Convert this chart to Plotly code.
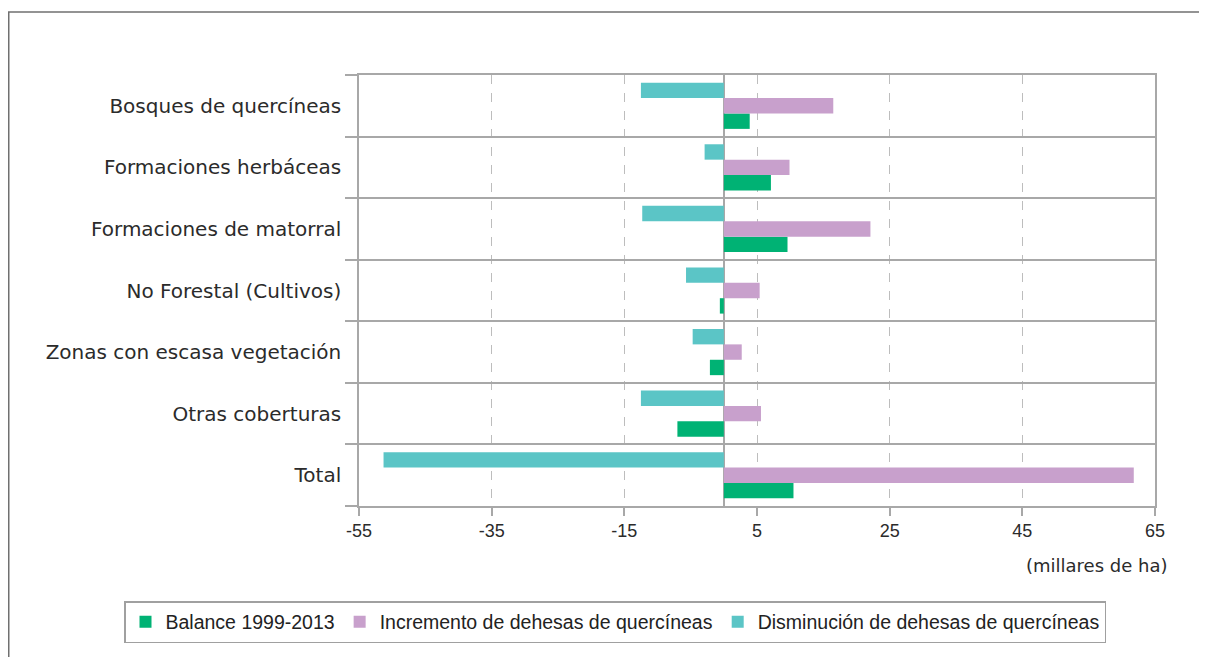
import plotly.graph_objects as go

categories = [
    "Bosques de quercíneas",
    "Formaciones herbáceas",
    "Formaciones de matorral",
    "No Forestal (Cultivos)",
    "Zonas con escasa vegetación",
    "Otras coberturas",
    "Total",
]
balance = [3.9, 7.1, 9.6, -0.6, -2.1, -7.0, 10.5]
incremento = [16.5, 9.9, 22.1, 5.4, 2.7, 5.6, 61.8]
disminucion = [-12.5, -2.9, -12.3, -5.7, -4.7, -12.5, -51.3]

series_names = [
    "Balance 1999-2013",
    "Incremento de dehesas de quercíneas",
    "Disminución de dehesas de quercíneas",
]
colors = ["#00B274", "#C8A0CC", "#5BC5C6"]

x_ticks = [-55, -35, -15, 5, 25, 45, 65]

fig = go.Figure()
for name, vals, col in zip(series_names, [balance, incremento, disminucion], colors):
    fig.add_trace(go.Bar(
        y=categories, x=vals, name=name, orientation="h",
        marker=dict(color=col, line=dict(width=0)),
    ))

OFF = 8  # page body margin
W, H = 1207, 657
L, T = 359 - OFF, 75 - OFF
R = W - (1155 - OFF)
B = H - (506 - OFF)
pw, ph = W - L - R, H - T - B

def px(x):
    return (x - OFF - L) / pw

def py(y):
    return (H - B - (y - OFF)) / ph

fig.update_layout(
    width=W, height=H,
    margin=dict(l=L, r=R, t=T, b=B),
    paper_bgcolor="white", plot_bgcolor="white",
    barmode="group", bargap=0.25, bargroupgap=0,
    font=dict(family="Liberation Sans, Arial, sans-serif", color="#2B2B2B"),
    xaxis=dict(
        range=[-55, 65], tickvals=x_ticks, ticktext=[str(v) for v in x_ticks],
        showgrid=True, gridcolor="#BDBDBD", griddash="dash", gridwidth=1,
        zeroline=True, zerolinecolor="#A8A8A8", zerolinewidth=1.5,
        showline=True, linecolor="#A8A8A8", linewidth=1.5, mirror=True,
        ticks="outside", ticklen=8, tickcolor="#A8A8A8", tickwidth=1.5,
        tickfont=dict(size=18, family="Liberation Sans, Arial", color="#2B2B2B"),
        fixedrange=True,
    ),
    yaxis=dict(
        categoryorder="array", categoryarray=categories[::-1],
        tickson="boundaries", ticks="outside", ticklen=12,
        tickcolor="#A8A8A8", tickwidth=1.5, ticklabelstandoff=12,
        showgrid=True, gridcolor="#A8A8A8", gridwidth=1.5,
        showline=True, linecolor="#A8A8A8", linewidth=1.5, mirror=True,
        tickfont=dict(size=20, family="DejaVu Sans, Verdana, sans-serif", color="#2B2B2B"),
        fixedrange=True,
    ),
    legend=dict(
        orientation="h", x=px(124), y=py(601), xanchor="left", yanchor="top",
        bordercolor="#A0A0A0", borderwidth=1.5, bgcolor="white",
        font=dict(size=19.5, family="Liberation Sans, Arial", color="#222222"),
        traceorder="normal", itemwidth=30,
    ),
    showlegend=True,
)

fig.add_annotation(
    text="(millares de ha)", xref="paper", yref="paper",
    x=px(1169), y=py(565), xanchor="right", yanchor="middle",
    showarrow=False, font=dict(size=18, family="DejaVu Sans, Verdana", color="#2B2B2B"),
)

fig.add_shape(
    type="rect", xref="paper", yref="paper",
    x0=px(OFF + 0.75), x1=px(1260), y0=py(720), y1=py(12),
    line=dict(color="#707070", width=1.5), fillcolor="rgba(0,0,0,0)", layer="below",
)

fig.write_html("out.html")
